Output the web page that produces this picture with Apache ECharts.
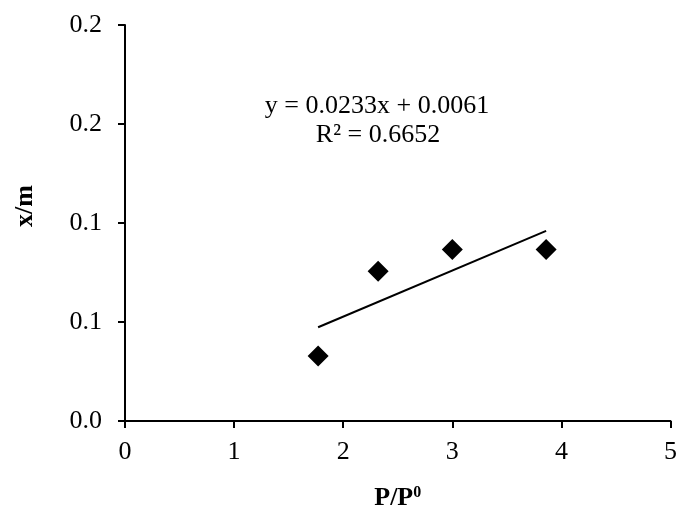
<!DOCTYPE html>
<html><head><meta charset="utf-8">
<script src="https://cdn.jsdelivr.net/npm/echarts@6/dist/echarts.min.js"></script>
<style>html,body{margin:0;padding:0;background:#fff}#c{width:680px;height:516px}</style>
</head><body><div id="c"></div>
<script>
var xValues = [1.77, 2.32, 3.0, 3.86];
var yValues = [0.0328, 0.0756, 0.0866, 0.0866];
var yTickLabels = ['0.0', '0.1', '0.1', '0.2', '0.2'];
var xTickLabels = ['0', '1', '2', '3', '4', '5'];
var trendSlope = 0.0233;
var trendIntercept = 0.0061;
var equationText = 'y = 0.0233x + 0.0061';
var r2Text = 'R² = 0.6652';

var pts = xValues.map(function (x, i) { return [x, yValues[i]]; });
var xmin = Math.min.apply(null, xValues), xmax = Math.max.apply(null, xValues);
var trend = [[xmin, trendSlope * xmin + trendIntercept], [xmax, trendSlope * xmax + trendIntercept]];

var font = 'Liberation Serif';
var fs = 26;
var chart = echarts.init(document.getElementById('c'));
chart.setOption({
  animation: false,
  backgroundColor: '#fff',
  grid: { left: 125, right: 9, top: 25, bottom: 90 },
  xAxis: {
    type: 'value', min: 0, max: 5, interval: 1,
    axisLine: { lineStyle: { color: '#000', width: 2 } },
    axisTick: { show: true, length: 7, lineStyle: { color: '#000', width: 2 } },
    splitLine: { show: false },
    axisLabel: { color: '#000', fontFamily: font, fontSize: fs, margin: 18,
      formatter: function (v) { return xTickLabels[Math.round(v)]; } },
    name: '{a|P/P}{b|0}', nameLocation: 'middle', nameGap: 64,
    nameTextStyle: { rich: {
      a: { fontFamily: font, fontSize: fs, fontWeight: 'bold', color: '#000' },
      b: { fontFamily: font, fontSize: 16, fontWeight: 'bold', color: '#000', verticalAlign: 'top', padding: [0, 0, 8, 0] }
    } }
  },
  yAxis: {
    type: 'value', min: 0, max: 0.2, interval: 0.05,
    axisLine: { show: true, lineStyle: { color: '#000', width: 2 } },
    axisTick: { show: true, length: 7, lineStyle: { color: '#000', width: 2 } },
    splitLine: { show: false },
    axisLabel: { color: '#000', fontFamily: font, fontSize: fs, margin: 23,
      formatter: function (v) { return yTickLabels[Math.round(v / 0.05)]; } },
    name: 'x/m', nameLocation: 'middle', nameGap: 87, nameRotate: 90,
    nameTextStyle: { fontFamily: font, fontSize: fs, fontWeight: 'bold', color: '#000', padding: [0, 0, 0, 34] }
  },
  graphic: [
    { type: 'text', x: 377, y: 93, style: { text: equationText, fill: '#000', font: fs + 'px "Liberation Serif"', textAlign: 'center', textVerticalAlign: 'top' } },
    { type: 'text', x: 378, y: 122, style: { text: r2Text, fill: '#000', font: fs + 'px "Liberation Serif"', textAlign: 'center', textVerticalAlign: 'top' } }
  ],
  series: [
    { type: 'line', data: trend, symbol: 'none', lineStyle: { color: '#000', width: 2 }, z: 2 },
    { type: 'scatter', data: pts, symbol: 'diamond', symbolSize: 21, itemStyle: { color: '#000', opacity: 1 }, z: 3 }
  ]
});
</script></body></html>
